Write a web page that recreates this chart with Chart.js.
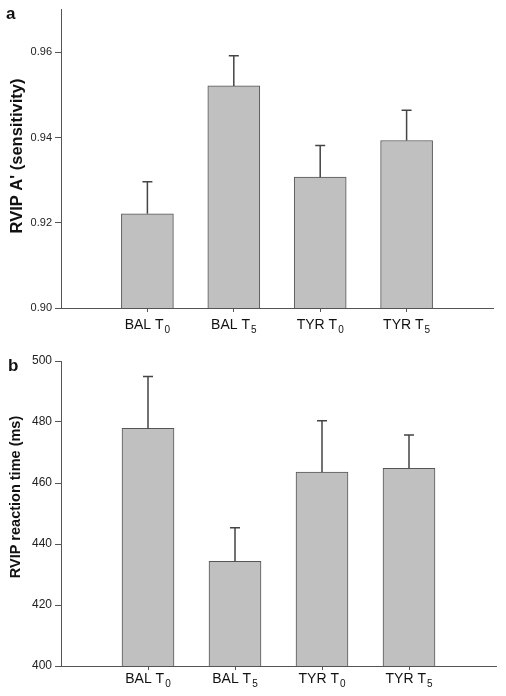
<!DOCTYPE html>
<html>
<head>
<meta charset="utf-8">
<script src="https://cdn.jsdelivr.net/npm/chart.js@4"></script>
<style>
  html, body { margin: 0; padding: 0; background: #fff; }
  body { width: 506px; height: 696px; position: relative; overflow: hidden; font-family: "Liberation Sans", Arial, sans-serif; }
  .wrap { position: absolute; left: 0; width: 506px; }
  #wa { top: 0; height: 345px; }
  #wb { top: 345px; height: 351px; }
  .panel { position: absolute; font-weight: bold; font-size: 17px; color: #111; }
</style>
</head>
<body>
<div class="wrap" id="wa"><canvas id="ca"></canvas></div>
<div class="wrap" id="wb"><canvas id="cb"></canvas></div>
<div class="panel" style="left:6px; top:4px;">a</div>
<div class="panel" style="left:8px; top:356px;">b</div>
<script>
// ---- data ----
const categories = ['BAL T\u2080', 'BAL T\u2085', 'TYR T\u2080', 'TYR T\u2085'];
const sensitivity = [0.9221, 0.9521, 0.9307, 0.9393];
const sensitivityErr = [0.0075, 0.0071, 0.0074, 0.0071];
const reactionTime = [477.9, 434.3, 463.6, 464.8];
const reactionErr = [17.0, 11.0, 16.8, 10.9];
const ticksA = [0.90, 0.92, 0.94, 0.96];
const ticksB = [400, 420, 440, 460, 480, 500];

const FONT = '"Liberation Sans", Arial, sans-serif';
const AXIS = '#555';
const SUBS = { '\u2080': '0', '\u2081': '1', '\u2082': '2', '\u2083': '3', '\u2084': '4',
               '\u2085': '5', '\u2086': '6', '\u2087': '7', '\u2088': '8', '\u2089': '9' };

const errorBars = {
  id: 'errorBars',
  afterDatasetsDraw(chart, args, opts) {
    const ctx = chart.ctx;
    const meta = chart.getDatasetMeta(0);
    const ys = chart.scales.y;
    const vals = chart.data.datasets[0].data;
    ctx.save();
    ctx.strokeStyle = '#444';
    ctx.lineWidth = 1.5;
    meta.data.forEach((bar, i) => {
      const v = vals[i];
      if (v === null || v === undefined) return;
      const e = opts.errors[i - 1];
      const x = bar.x;
      const y0 = ys.getPixelForValue(v);
      const y1 = ys.getPixelForValue(v + e);
      ctx.beginPath();
      ctx.moveTo(x, y0);
      ctx.lineTo(x, y1);
      ctx.moveTo(x - 5, y1);
      ctx.lineTo(x + 5, y1);
      ctx.stroke();
    });
    ctx.restore();
  }
};

// draws category labels with true subscripts at the x-scale tick positions
const subLabels = {
  id: 'subLabels',
  afterDraw(chart, args, opts) {
    const ctx = chart.ctx;
    const xs = chart.scales.x;
    ctx.save();
    ctx.fillStyle = '#111';
    ctx.textBaseline = 'alphabetic';
    ctx.textAlign = 'left';
    chart.data.labels.forEach((lab, i) => {
      if (!lab) return;
      const last = lab.slice(-1);
      const main = SUBS[last] ? lab.slice(0, -1) : lab;
      const sub = SUBS[last] || '';
      ctx.font = opts.size + 'px ' + FONT;
      const wm = ctx.measureText(main).width;
      ctx.font = opts.subSize + 'px ' + FONT;
      const ws = ctx.measureText(sub).width;
      const x = xs.getPixelForTick(i);
      const x0 = x - (wm + ws + 1) / 2;
      const y = xs.top + opts.baseline;
      ctx.font = opts.size + 'px ' + FONT;
      ctx.fillText(main, x0, y);
      ctx.font = opts.subSize + 'px ' + FONT;
      ctx.fillText(sub, x0 + wm + 1, y + opts.subDrop);
    });
    ctx.restore();
  }
};

// rotated y-axis title placed at a given centre
const yTitle = {
  id: 'yTitle',
  afterDraw(chart, args, opts) {
    const ctx = chart.ctx;
    ctx.save();
    ctx.fillStyle = '#111';
    ctx.font = 'bold ' + opts.size + 'px ' + FONT;
    ctx.textAlign = 'center';
    ctx.textBaseline = 'middle';
    ctx.translate(opts.x, opts.y);
    ctx.rotate(-Math.PI / 2);
    ctx.fillText(opts.text, 0, 0);
    ctx.restore();
  }
};

function makeChart(id, values, errors, yMin, yMax, yTicks, decimals, tickSize, cfg) {
  const labels = [''].concat(categories, ['']);
  const data = [null].concat(values, [null]);
  return new Chart(document.getElementById(id), {
    type: 'bar',
    data: {
      labels: labels,
      datasets: [{
        data: data,
        backgroundColor: '#c0c0c0',
        borderColor: '#555',
        borderWidth: 1,
        borderSkipped: false,
        barThickness: 52
      }]
    },
    plugins: [errorBars, subLabels, yTitle],
    options: {
      responsive: true,
      maintainAspectRatio: false,
      animation: false,
      events: [],
      layout: { padding: cfg.pad },
      plugins: {
        legend: { display: false },
        tooltip: { enabled: false },
        errorBars: { errors: errors },
        subLabels: cfg.labels,
        yTitle: cfg.title
      },
      scales: {
        x: {
          type: 'category',
          offset: false,
          grid: {
            offset: false,
            drawOnChartArea: false,
            drawTicks: true,
            tickLength: 4,
            color: (c) => (c.index === 0 || c.index === labels.length - 1) ? 'rgba(0,0,0,0)' : AXIS
          },
          border: { display: true, color: AXIS, width: 1 },
          ticks: { display: false, autoSkip: false },
          afterFit: (s) => { s.height = cfg.xh; }
        },
        y: {
          min: yMin,
          max: yMax,
          afterBuildTicks: (s) => { s.ticks = yTicks.map(v => ({ value: v })); },
          grid: {
            drawOnChartArea: false,
            drawTicks: true,
            tickLength: 6,
            color: AXIS
          },
          border: { display: true, color: AXIS, width: 1 },
          ticks: {
            padding: 3,
            color: '#222',
            font: { family: FONT, size: tickSize },
            callback: (v) => Number(v).toFixed(decimals)
          },
          afterFit: (s) => { s.width = 61; }
        }
      }
    }
  });
}

makeChart('ca', sensitivity, sensitivityErr, 0.90, 0.97, ticksA, 2, 11, {
  pad: { left: 0, right: 13, top: 5, bottom: 0 },
  xh: 37,
  labels: { size: 14, subSize: 10, baseline: 21, subDrop: 4 },
  title: { text: "RVIP A' (sensitivity)", size: 16.5, x: 17, y: 156 }
});
makeChart('cb', reactionTime, reactionErr, 400, 500, ticksB, 0, 12, {
  pad: { left: 0, right: 10, top: 16, bottom: 0 },
  xh: 30,
  labels: { size: 14, subSize: 10, baseline: 17, subDrop: 4 },
  title: { text: 'RVIP reaction time (ms)', size: 14.5, x: 15.5, y: 152 }
});
</script>
</body>
</html>
